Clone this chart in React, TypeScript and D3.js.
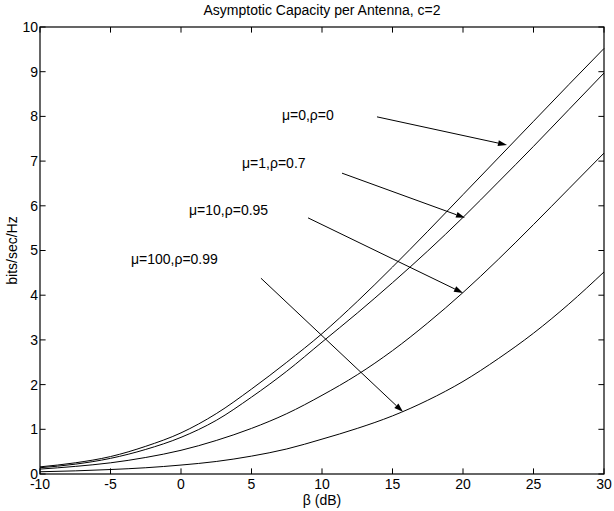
import React from "react";
import * as d3 from "d3";

const betaDb = [-10, -7.5, -5, -2.5, 0, 2.5, 5, 7.5, 10, 12.5, 15, 17.5, 20, 22.5, 25, 27.5, 30];
const capMu0 = [0.16, 0.25, 0.39, 0.62, 0.92, 1.35, 1.9, 2.5, 3.14, 3.86, 4.63, 5.43, 6.25, 7.07, 7.89, 8.71, 9.52];
const capMu1 = [0.14, 0.22, 0.35, 0.55, 0.82, 1.2, 1.72, 2.3, 2.95, 3.6, 4.28, 4.99, 5.74, 6.53, 7.33, 8.15, 8.97];
const capMu10 = [0.11, 0.17, 0.25, 0.37, 0.53, 0.75, 1.02, 1.35, 1.76, 2.22, 2.76, 3.38, 4.06, 4.8, 5.58, 6.38, 7.18];
const capMu100 = [0.05, 0.07, 0.1, 0.14, 0.2, 0.28, 0.4, 0.56, 0.78, 1.02, 1.3, 1.65, 2.07, 2.58, 3.15, 3.8, 4.52];

const xTicks = [-10, -5, 0, 5, 10, 15, 20, 25, 30];
const yTicks = [0, 1, 2, 3, 4, 5, 6, 7, 8, 9, 10];

const labelTexts = ["μ=0,ρ=0", "μ=1,ρ=0.7", "μ=10,ρ=0.95", "μ=100,ρ=0.99"];
const labelX = [7.16, 4.33, 0.57, -3.55];
const labelY = [8.03, 6.96, 5.91, 4.81];
const arrowFromX = [13.9, 11.42, 9.01, 5.67];
const arrowFromY = [7.99, 6.73, 5.73, 4.38];
const arrowToX = [23.12, 20.14, 20.0, 15.74];
const arrowToY = [7.36, 5.73, 4.05, 1.39];

const W = 614, H = 511;
const M = { left: 40, right: 604, top: 27, bottom: 474 };
const FONT = "'Liberation Sans', Arial, Helvetica, sans-serif";

export default function App() {
  const x = d3.scaleLinear().domain([-10, 30]).range([M.left, M.right]);
  const y = d3.scaleLinear().domain([0, 10]).range([M.bottom, M.top]);
  const line = d3
    .line<number>()
    .x((_, i) => x(betaDb[i]))
    .y((d) => y(d))
    .curve(d3.curveMonotoneX);
  const series = [capMu0, capMu1, capMu10, capMu100];
  const tl = 5.6;

  return (
    <svg width={W} height={H} style={{ position: "absolute", left: 0, top: 0, background: "#fff" }} fontFamily={FONT}>
      <rect x={0} y={0} width={W} height={H} fill="#fff" />
      {series.map((s, i) => (
        <path key={i} d={line(s) || ""} fill="none" stroke="#000" strokeWidth={1} />
      ))}
      {labelTexts.map((t, i) => {
        const x1 = x(arrowFromX[i]), y1 = y(arrowFromY[i]);
        const x2 = x(arrowToX[i]), y2 = y(arrowToY[i]);
        const ang = Math.atan2(y2 - y1, x2 - x1);
        const L = 9, hw = 3;
        const bx = x2 - L * Math.cos(ang), by = y2 - L * Math.sin(ang);
        const px = -Math.sin(ang) * hw, py = Math.cos(ang) * hw;
        return (
          <g key={i}>
            <text x={x(labelX[i])} y={y(labelY[i])} dy="0.35em" fontSize={14} fill="#000">{t}</text>
            <line x1={x1} y1={y1} x2={bx} y2={by} stroke="#000" strokeWidth={1} />
            <polygon points={`${x2},${y2} ${bx + px},${by + py} ${bx - px},${by - py}`} fill="#000" />
          </g>
        );
      })}
      <rect x={M.left} y={M.top} width={M.right - M.left} height={M.bottom - M.top} fill="none" stroke="#000" strokeWidth={1.2} />
      {xTicks.map((t) => (
        <g key={"x" + t}>
          <line x1={x(t)} x2={x(t)} y1={M.bottom} y2={M.bottom - tl} stroke="#000" />
          <line x1={x(t)} x2={x(t)} y1={M.top} y2={M.top + tl} stroke="#000" />
          <text x={x(t)} y={M.bottom + 15} textAnchor="middle" fontSize={14}>{t}</text>
        </g>
      ))}
      {yTicks.map((t) => (
        <g key={"y" + t}>
          <line x1={M.left} x2={M.left + tl} y1={y(t)} y2={y(t)} stroke="#000" />
          <line x1={M.right} x2={M.right - tl} y1={y(t)} y2={y(t)} stroke="#000" />
          <text x={M.left - 2} y={y(t)} dy="0.35em" textAnchor="end" fontSize={14}>{t}</text>
        </g>
      ))}
      <text x={(M.left + M.right) / 2} y={15} textAnchor="middle" fontSize={14}>Asymptotic Capacity per Antenna, c=2</text>
      <text x={(M.left + M.right) / 2} y={505} textAnchor="middle" fontSize={14}>β (dB)</text>
      <text transform={`translate(17,${(M.top + M.bottom) / 2}) rotate(-90)`} textAnchor="middle" fontSize={14}>bits/sec/Hz</text>
    </svg>
  );
}
